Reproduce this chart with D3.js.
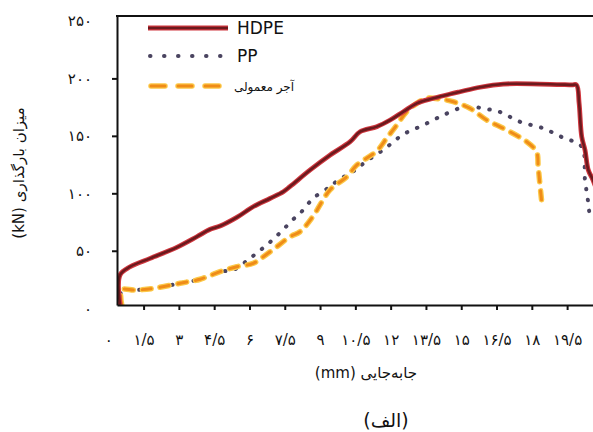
<!DOCTYPE html>
<html lang="fa">
<head>
<meta charset="UTF-8">
<title>load-displacement</title>
<style>
  html, body { margin: 0; padding: 0; background: #fff; }
  svg { display: block; }
  text { font-family: "DejaVu Sans", sans-serif; fill: #111; }
</style>
</head>
<body>
<script src="https://d3js.org/d3.v7.min.js"></script>
<script>
// displacement (mm) and load (kN)
var hdpeX = [0.5, 0.5, 0.93, 1.78, 2.91, 3.76, 4.33, 4.75, 5.46, 6.17, 6.87, 7.44, 7.73, 8.58, 9.43, 10.28, 10.70, 11.41, 11.98, 12.54, 13.11, 13.82, 14.53, 14.95, 15.80, 16.78, 18.34, 19.70, 19.90, 20.01, 20.12, 20.26, 20.40, 20.60, 20.80];
var hdpeY = [3, 29, 36.1, 43.4, 53, 62.2, 68.7, 71.5, 79, 88.5, 95.5, 101.4, 106, 120.3, 133.3, 144.9, 153.6, 158, 163.8, 171, 178.3, 182.7, 186.4, 188.4, 192.3, 195.1, 195.1, 194.4, 194.3, 178.3, 149.3, 137.7, 120.3, 111.6, 100];

var ppX = [0.57, 0.57, 1.14, 1.92, 3.05, 3.90, 4.75, 5.31, 6.02, 6.38, 6.73, 7.01, 7.30, 7.58, 7.86, 8.15, 8.71, 9.42, 9.78, 10.41, 10.91, 11.76, 12.54, 13.39, 14.24, 15.07, 15.65, 16.15, 16.64, 17.49, 18.48, 19.33, 20.12, 20.26, 20.40, 20.47];
var ppY = [3, 16, 15.8, 17.3, 21.7, 25.2, 31.8, 33.2, 43.4, 49.2, 55, 60, 65.7, 71.5, 77.4, 82.6, 95.6, 105.7, 111.6, 119, 127, 139, 151.3, 159.4, 168.1, 174.8, 174.8, 173.1, 170.8, 162.3, 156.6, 148.4, 140.6, 111.6, 91.3, 77];

var brickX = [0.57, 0.57, 1.14, 1.92, 3.05, 3.90, 4.75, 5.46, 6.16, 6.59, 7.16, 7.72, 8.15, 8.70, 9.42, 10.14, 10.56, 11.41, 11.83, 12.26, 12.68, 13.11, 13.53, 14.10, 14.66, 15.37, 16.08, 16.93, 17.78, 18.20, 18.27, 18.34, 18.42];
var brickY = [3, 16, 15.8, 17.3, 21.7, 25.2, 31.8, 36.1, 39.1, 44.8, 53.5, 62.2, 66.6, 80, 102.9, 114.4, 124.6, 136.8, 147.9, 159.4, 171, 178.3, 182.7, 182.1, 179.7, 174, 163.8, 155.1, 144.9, 136.2, 123.2, 108.7, 92.7];

var seriesNames = ["HDPE", "PP", "آجر معمولی"];
var xTicks = [0, 1.5, 3, 4.5, 6, 7.5, 9, 10.5, 12, 13.5, 15, 16.5, 18, 19.5];
var yTicks = [0, 50, 100, 150, 200, 250];
var xTitle = "جابه‌جایی (mm)";
var yTitle = "میزان بارگذاری (kN)";
var caption = "(الف)";

var width = 593, height = 432;
var m = { left: 117, right: 593, top: 16, bottom: 305 };

var svg = d3.select("body").append("svg").attr("width", width).attr("height", height);

var x = d3.scaleLinear().domain([0.37, 20.6]).range([m.left, m.right]);
var y = d3.scaleLinear().domain([2.8, 254.3]).range([m.bottom, m.top]);

// persian digits, slash for the decimal point
function fa(v) {
  return String(v).replace(".", "/").replace(/[0-9]/g, function(c) { return "۰۱۲۳۴۵۶۷۸۹"[+c]; });
}

svg.append("clipPath").attr("id", "plot")
  .append("rect").attr("x", m.left).attr("y", m.top).attr("width", m.right - m.left).attr("height", m.bottom - m.top);

var line = d3.line().curve(d3.curveCatmullRom.alpha(0.5))
  .x(function(d) { return x(d[0]); }).y(function(d) { return y(d[1]); });

var hdpe = d3.zip(hdpeX, hdpeY);
var pp = d3.zip(ppX, ppY);
var brick = d3.zip(brickX, brickY);

var g = svg.append("g").attr("clip-path", "url(#plot)");

// PP dotted
g.append("path").attr("d", line(pp)).attr("fill", "none")
  .attr("stroke", "#4a4460").attr("stroke-width", 4).attr("stroke-linecap", "round")
  .attr("stroke-dasharray", "0.5,10.5");

// brick dashed (glow + core)
g.append("path").attr("d", line(brick)).attr("fill", "none")
  .attr("stroke", "#fcc848").attr("stroke-width", 5.5).attr("stroke-linecap", "round")
  .attr("stroke-dasharray", "9,9");
g.append("path").attr("d", line(brick)).attr("fill", "none")
  .attr("stroke", "#ef8c18").attr("stroke-width", 3).attr("stroke-linecap", "round")
  .attr("stroke-dasharray", "9,9");

// HDPE solid (glow + core)
g.append("path").attr("d", line(hdpe)).attr("fill", "none")
  .attr("stroke", "#d0363e").attr("stroke-width", 4.8).attr("stroke-linejoin", "round");
g.append("path").attr("d", line(hdpe)).attr("fill", "none")
  .attr("stroke", "#6c1a1e").attr("stroke-width", 2.6).attr("stroke-linejoin", "round");

// axes
var xAxis = svg.append("g").attr("transform", "translate(0," + m.bottom + ")")
  .call(d3.axisBottom(x).tickValues(xTicks).tickFormat(fa).tickSize(5).tickPadding(24).tickSizeOuter(0));
var yAxis = svg.append("g").attr("transform", "translate(" + m.left + ",0)")
  .call(d3.axisLeft(y).tickValues(yTicks).tickFormat(fa).tickSize(5).tickPadding(20).tickSizeOuter(0));

[xAxis, yAxis].forEach(function(a) {
  a.select(".domain").attr("stroke", "#111").attr("stroke-width", 2);
  a.selectAll(".tick line").attr("stroke", "#111").attr("stroke-width", 2);
  a.selectAll(".tick text").attr("font-family", "DejaVu Sans").attr("font-size", 15).attr("fill", "#111");
});
xAxis.selectAll(".tick").filter(function(d) { return d === 0; }).select("line").remove();
yAxis.selectAll(".tick").filter(function(d) { return d === 0 || d === 250; }).select("line").remove();

// top frame line
svg.append("line").attr("x1", m.left - 1).attr("x2", m.right).attr("y1", m.top).attr("y2", m.top)
  .attr("stroke", "#111").attr("stroke-width", 2);

// legend
var lg = svg.append("g");
lg.append("line").attr("x1", 148).attr("x2", 228).attr("y1", 28).attr("y2", 28)
  .attr("stroke", "#d0363e").attr("stroke-width", 4.8);
lg.append("line").attr("x1", 148).attr("x2", 228).attr("y1", 28).attr("y2", 28)
  .attr("stroke", "#6c1a1e").attr("stroke-width", 2.6);
lg.append("line").attr("x1", 150).attr("x2", 222).attr("y1", 56).attr("y2", 56)
  .attr("stroke", "#4a4460").attr("stroke-width", 4).attr("stroke-linecap", "round")
  .attr("stroke-dasharray", "0.5,13.5");
lg.append("line").attr("x1", 151).attr("x2", 225).attr("y1", 86).attr("y2", 86)
  .attr("stroke", "#fcc848").attr("stroke-width", 5.5).attr("stroke-linecap", "round")
  .attr("stroke-dasharray", "14,13");
lg.append("line").attr("x1", 151).attr("x2", 225).attr("y1", 86).attr("y2", 86)
  .attr("stroke", "#ef8c18").attr("stroke-width", 3).attr("stroke-linecap", "round")
  .attr("stroke-dasharray", "14,13");

lg.append("text").attr("x", 237).attr("y", 34).attr("font-family", "Liberation Sans")
  .attr("font-size", 17).text(seriesNames[0]);
lg.append("text").attr("x", 237).attr("y", 62).attr("font-family", "Liberation Sans")
  .attr("font-size", 17).text(seriesNames[1]);
lg.append("text").attr("x", 264).attr("y", 91).attr("text-anchor", "middle").attr("direction", "rtl")
  .attr("font-size", 12).text(seriesNames[2]);

// titles
svg.append("text").attr("x", 366).attr("y", 378).attr("text-anchor", "middle").attr("direction", "rtl")
  .attr("font-size", 15).text(xTitle);
svg.append("text").attr("transform", "translate(24,173) rotate(-90)").attr("text-anchor", "middle")
  .attr("direction", "rtl").attr("font-size", 15).text(yTitle);
svg.append("text").attr("x", 386).attr("y", 427).attr("text-anchor", "middle").attr("direction", "rtl")
  .attr("font-size", 19).text(caption);
</script>
</body>
</html>
